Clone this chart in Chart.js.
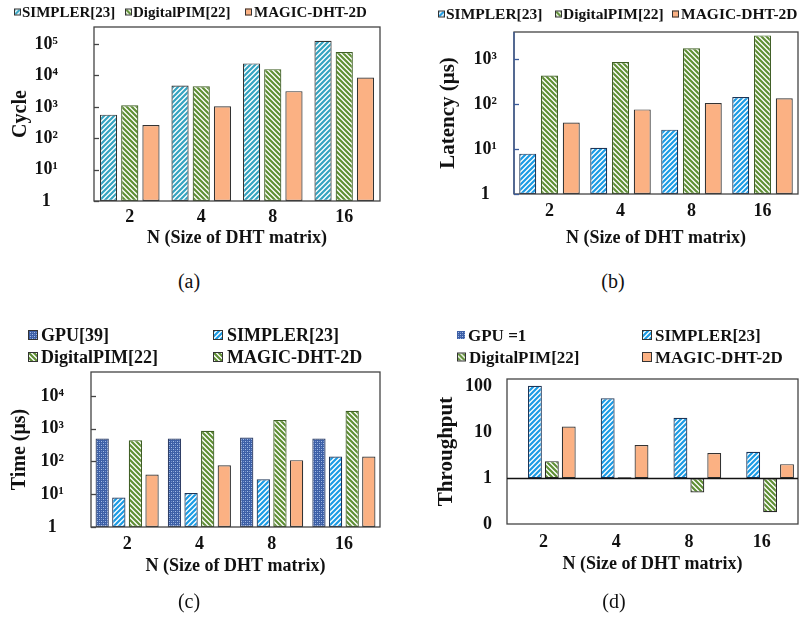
<!DOCTYPE html>
<html>
<head>
<meta charset="utf-8">
<script src="https://cdn.jsdelivr.net/npm/chart.js@4.4.0/dist/chart.umd.min.js"></script>
<style>
  body { margin: 0; background: #fff; }
  #page { position: relative; width: 804px; height: 624px; overflow: hidden;
    font-family: 'Liberation Serif', 'Times New Roman', serif; color: #111; }
  canvas.plot { position: absolute; }
  .leg { position: absolute; font-weight: bold; white-space: nowrap; line-height: 1; transform: translateY(-50%); }
  .sw { position: absolute; box-sizing: border-box; border: 1px solid #333; transform: translateY(-50%); }
  .cap { position: absolute; font-size: 20px; transform: translate(-50%, -50%); }
</style>
</head>
<body>
<div id="page">
  <canvas id="chartA" class="plot" width="400" height="260" style="left:0;top:0"></canvas>
  <canvas id="chartB" class="plot" width="404" height="260" style="left:400px;top:0"></canvas>
  <canvas id="chartC" class="plot" width="400" height="270" style="left:0;top:320px"></canvas>
  <canvas id="chartD" class="plot" width="404" height="270" style="left:400px;top:320px"></canvas>
  <div class="cap" style="left:189px;top:281px">(a)</div>
  <div class="cap" style="left:613px;top:281px">(b)</div>
  <div class="cap" style="left:189px;top:601px">(c)</div>
  <div class="cap" style="left:614px;top:601px">(d)</div>
</div>
<script>
const sizes = ['2', '4', '8', '16'];

// (a) cycles
const cycleSimpler = [565, 4800, 24200, 128000];
const cycleDigital = [1130, 4500, 15900, 55600];
const cycleMagic = [263, 1050, 3160, 8600];

// (b) latency (us)
const latSimpler = [7.9, 10.7, 27, 143];
const latDigital = [433, 858, 1730, 3360];
const latMagic = [39, 76, 105, 134];

// (c) time (us)
const timeGpu = [502, 502, 540, 502];
const timeSimpler = [7.9, 10.9, 28.8, 142];
const timeDigital = [449, 870, 1840, 3550];
const timeMagic = [40, 77, 110, 142];

// (d) throughput, GPU = 1
const thrGpu = [1, 1, 1, 1];
const thrSimpler = [105, 56, 21, 3.8];
const thrDigital = [2.36, 1.05, 0.49, 0.18];
const thrMagic = [13.5, 5.3, 3.56, 2.03];

const decadeTicks = [1, 10, 100, 1000, 10000, 100000];
const decadeLabels = ['1', '10¹', '10²', '10³', '10⁴', '10⁵'];
const thrTicks = [0.1, 1, 10, 100];
const thrLabels = ['0', '1', '10', '100'];

const serif = "'Liberation Serif', 'Times New Roman', serif";

// small tiles used both as bar fill and as legend swatch
function tile(draw, n) {
  const c = document.createElement('canvas');
  c.width = c.height = n;
  draw(c.getContext('2d'), n);
  return c;
}
function stripes(color, up) {
  return tile((g, n) => {
    g.fillStyle = '#fff';
    g.fillRect(0, 0, n, n);
    g.strokeStyle = color;
    g.lineWidth = 2.2;
    g.beginPath();
    for (let k = -1; k <= 1; k++) {
      if (up) { g.moveTo(k * n - 1, n + 1); g.lineTo(k * n + n + 1, -1); }
      else { g.moveTo(k * n - 1, -1); g.lineTo(k * n + n + 1, n + 1); }
    }
    g.stroke();
  }, 5);
}
const checker = tile((g) => {
  g.fillStyle = '#3d5fa6';
  g.fillRect(0, 0, 4, 4);
  g.fillStyle = '#a4bde6';
  g.fillRect(1, 1, 1, 1);
  g.fillRect(3, 3, 1, 1);
  g.fillStyle = '#6f8fcb';
  g.fillRect(3, 1, 1, 1);
  g.fillRect(1, 3, 1, 1);
}, 4);

const tiles = {
  teal: stripes('#35a3c0', true),
  blue: stripes('#1b9be4', true),
  green: stripes('#5f8f34', false),
  gpu: checker,
};
const magicColor = '#fbb183';

function pat(t) {
  return t.getContext('2d').createPattern(t, 'repeat');
}

function bars(label, data, fill, extra) {
  return Object.assign({
    label: label,
    data: data,
    backgroundColor: fill,
    borderColor: '#333',
    borderWidth: 1.2,
    borderSkipped: false,
  }, extra || {});
}

const framePlugin = {
  id: 'frame',
  afterDatasetsDraw(chart, args, opts) {
    const {ctx, chartArea: a} = chart;
    const y = chart.scales.y;
    ctx.save();
    ctx.lineWidth = 1.3;
    ctx.strokeStyle = '#444';
    ctx.strokeRect(a.left, a.top, a.right - a.left, a.bottom - a.top);
    if (opts.leftColor) {
      ctx.strokeStyle = opts.leftColor;
      ctx.beginPath();
      ctx.moveTo(a.left, a.top);
      ctx.lineTo(a.left, a.bottom);
      ctx.stroke();
    }
    if (opts.tickLen) {
      ctx.strokeStyle = opts.leftColor || '#444';
      y.ticks.forEach((t) => {
        const py = Math.round(y.getPixelForValue(t.value)) + 0.5;
        ctx.beginPath();
        ctx.moveTo(a.left, py);
        ctx.lineTo(a.left + opts.tickLen, py);
        ctx.stroke();
      });
    }
    if (opts.baseLine) {
      const py = Math.round(y.getPixelForValue(opts.baseLine)) + 0.5;
      ctx.strokeStyle = '#111';
      ctx.beginPath();
      ctx.moveTo(a.left, py);
      ctx.lineTo(a.right, py);
      ctx.stroke();
    }
    ctx.restore();
  },
};

function makeChart(id, cfg) {
  return new Chart(document.getElementById(id), {
    type: 'bar',
    data: {labels: sizes, datasets: cfg.datasets},
    options: {
      responsive: false,
      animation: false,
      devicePixelRatio: 1,
      layout: {padding: cfg.pad},
      datasets: {bar: {categoryPercentage: cfg.cat, barPercentage: cfg.bar}},
      plugins: {
        legend: {display: false},
        tooltip: {enabled: false},
        frame: cfg.frame,
      },
      scales: {
        x: {
          grid: {display: false, drawTicks: false},
          border: {display: false},
          ticks: {color: '#111', padding: cfg.xPad, font: {family: serif, size: 18, weight: 'bold'}},
          title: {
            display: true,
            text: 'N (Size of DHT matrix)',
            color: '#111',
            padding: {top: 0, bottom: 4},
            font: {family: serif, size: 18, weight: 'bold'},
          },
          afterFit: (s) => {
            s.height = cfg.xH;
            s.paddingLeft = s.paddingRight = 0;
          },
        },
        y: {
          type: 'logarithmic',
          min: cfg.min,
          max: cfg.max,
          grid: {display: false, drawTicks: false},
          border: {display: false},
          afterBuildTicks: (s) => { s.ticks = cfg.ticks.map((v) => ({value: v})); },
          ticks: {
            color: '#111',
            padding: cfg.yPad,
            crossAlign: cfg.align,
            font: {family: serif, size: 18, weight: 'bold'},
            callback: (v) => {
              const i = cfg.ticks.indexOf(v);
              return i < 0 ? '' : cfg.labels[i];
            },
          },
          title: {
            display: true,
            text: cfg.yTitle,
            color: '#111',
            padding: {top: 4, bottom: 0},
            font: {family: serif, size: cfg.yFont, weight: 'bold'},
          },
          afterFit: (s) => {
            s.width = cfg.yW;
            s.paddingTop = s.paddingBottom = 0;
          },
        },
      },
    },
    plugins: [framePlugin],
  });
}

makeChart('chartA', {
  datasets: [
    bars('SIMPLER[23]', cycleSimpler, pat(tiles.teal)),
    bars('DigitalPIM[22]', cycleDigital, pat(tiles.green), {borderColor: '#3f5f25'}),
    bars('MAGIC-DHT-2D', cycleMagic, magicColor),
  ],
  pad: {left: 5, top: 27, right: 20, bottom: 7},
  yW: 89, xH: 52, xPad: 6, yPad: 36, align: 'center',
  cat: 0.89, bar: 0.81,
  min: 1, max: 350000,
  ticks: decadeTicks, labels: decadeLabels,
  yTitle: 'Cycle', yFont: 20,
  frame: {tickLen: 5},
});

makeChart('chartB', {
  datasets: [
    bars('SIMPLER[23]', latSimpler, pat(tiles.blue), {borderColor: '#1d3557'}),
    bars('DigitalPIM[22]', latDigital, pat(tiles.green), {borderColor: '#3f5f25'}),
    bars('MAGIC-DHT-2D', latMagic, magicColor),
  ],
  pad: {left: 32, top: 32, right: 6, bottom: 7},
  yW: 82, xH: 59, xPad: 7, yPad: 17, align: 'center',
  cat: 0.92, bar: 0.78,
  min: 1, max: 4000,
  ticks: decadeTicks.slice(0, 4), labels: decadeLabels.slice(0, 4),
  yTitle: 'Latency (μs)', yFont: 21,
  frame: {tickLen: 5, leftColor: '#3b5b9a'},
});

makeChart('chartC', {
  datasets: [
    bars('GPU[39]', timeGpu, pat(tiles.gpu), {borderColor: '#2f3f66'}),
    bars('SIMPLER[23]', timeSimpler, pat(tiles.blue), {borderColor: '#1d3557'}),
    bars('DigitalPIM[22]', timeDigital, pat(tiles.green), {borderColor: '#3f5f25'}),
    bars('MAGIC-DHT-2D', timeMagic, magicColor),
  ],
  pad: {left: 4, top: 52, right: 20, bottom: 9},
  yW: 87, xH: 54, xPad: 7, yPad: 27, align: 'center',
  cat: 0.92, bar: 0.8,
  min: 1, max: 54000,
  ticks: decadeTicks.slice(0, 5), labels: decadeLabels.slice(0, 5),
  yTitle: 'Time (μs)', yFont: 20,
  frame: {tickLen: 5},
});

makeChart('chartD', {
  datasets: [
    bars('GPU =1', thrGpu, pat(tiles.gpu), {borderWidth: 0, base: 1}),
    bars('SIMPLER[23]', thrSimpler, pat(tiles.blue), {borderColor: '#1d3557', base: 1}),
    bars('DigitalPIM[22]', thrDigital, pat(tiles.green), {borderColor: '#2a2a2a', base: 1}),
    bars('MAGIC-DHT-2D', thrMagic, magicColor, {base: 1}),
  ],
  pad: {left: 30, top: 59, right: 6, bottom: 11},
  yW: 77, xH: 55, xPad: 8, yPad: 15, align: 'near',
  cat: 0.93, bar: 0.82,
  min: 0.1, max: 147,
  ticks: thrTicks, labels: thrLabels,
  yTitle: 'Throughput', yFont: 21,
  frame: {baseLine: 1},
});

// html legends
const page = document.getElementById('page');
function legendItem(t, label, sx, tx, y, box, font, noBorder) {
  const sw = document.createElement('div');
  sw.className = 'sw';
  sw.style.left = sx + 'px';
  sw.style.top = y + 'px';
  sw.style.width = box + 'px';
  sw.style.height = box + 'px';
  if (typeof t === 'string') sw.style.background = t;
  else sw.style.backgroundImage = 'url(' + t.toDataURL() + ')';
  if (noBorder) sw.style.border = 'none';
  page.appendChild(sw);
  const el = document.createElement('div');
  el.className = 'leg';
  el.textContent = label;
  el.style.left = tx + 'px';
  el.style.top = y + 'px';
  el.style.fontSize = font + 'px';
  page.appendChild(el);
}

legendItem(tiles.teal, 'SIMPLER[23]', 14, 22, 12, 7, 15);
legendItem(tiles.green, 'DigitalPIM[22]', 125, 133, 12, 7, 15);
legendItem(magicColor, 'MAGIC-DHT-2D', 245, 254, 12, 7, 15);

legendItem(tiles.blue, 'SIMPLER[23]', 438, 446, 14, 7, 15.5);
legendItem(tiles.green, 'DigitalPIM[22]', 555, 563, 14, 7, 15.5);
legendItem(magicColor, 'MAGIC-DHT-2D', 672, 681, 14, 7, 15.5);

legendItem(tiles.gpu, 'GPU[39]', 28, 41, 335, 10, 18);
legendItem(tiles.blue, 'SIMPLER[23]', 213, 227, 335, 10, 18);
legendItem(tiles.green, 'DigitalPIM[22]', 28, 41, 357, 10, 18);
legendItem(tiles.green, 'MAGIC-DHT-2D', 213, 227, 357, 10, 18);

legendItem(tiles.gpu, 'GPU =1', 457, 468, 335, 8, 17, true);
legendItem(tiles.blue, 'SIMPLER[23]', 642, 655, 335, 10, 17);
legendItem(tiles.green, 'DigitalPIM[22]', 457, 469, 357, 9, 17);
legendItem(magicColor, 'MAGIC-DHT-2D', 642, 655, 357, 10, 17);
</script>
</body>
</html>
